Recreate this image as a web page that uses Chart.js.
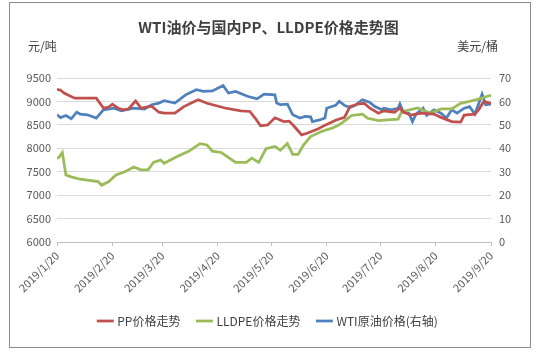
<!DOCTYPE html>
<html>
<head>
<meta charset="utf-8">
<script src="https://cdn.jsdelivr.net/npm/chart.js@4.4.1/dist/chart.umd.min.js"></script>
<style>
  html, body { margin: 0; padding: 0; background: #fff; }
  #wrap { width: 537px; height: 359px; }
</style>
</head>
<body>
<div id="wrap"><canvas id="chart" width="537" height="359"></canvas></div>
<script>
// 日期刻度 (每月20日)
const tickDates = ['2019/1/20', '2019/2/20', '2019/3/20', '2019/4/20', '2019/5/20',
    '2019/6/20', '2019/7/20', '2019/8/20', '2019/9/20'];

// PP价格走势 (元/吨)
const ppDates = ['1/20', '1/22', '1/24', '1/27', '1/30', '2/11', '2/15', '2/18', '2/20', '2/23',
    '2/26', '3/1', '3/5', '3/8', '3/14', '3/18', '3/21', '3/27', '4/1', '4/9',
    '4/14', '4/24', '5/3', '5/8', '5/11', '5/14', '5/18', '5/22', '5/27', '5/30',
    '6/2', '6/6', '6/9', '6/15', '6/20', '6/25', '6/30', '7/3', '7/7', '7/11',
    '7/14', '7/19', '7/22', '7/28', '7/31', '8/2', '8/6', '8/12', '8/19', '8/23',
    '8/29', '9/3', '9/5', '9/11', '9/13', '9/16', '9/20'];
const ppValues = [9260, 9240, 9180, 9120, 9070, 9070, 8860, 8880, 8940, 8860,
    8820, 8840, 9010, 8860, 8900, 8770, 8750, 8750, 8890, 9035,
    8960, 8860, 8800, 8785, 8640, 8480, 8500, 8650, 8570, 8580,
    8460, 8285, 8320, 8410, 8510, 8600, 8660, 8890, 8940, 8960,
    8860, 8750, 8800, 8770, 8860, 8770, 8710, 8750, 8730, 8660,
    8570, 8560, 8710, 8730, 8820, 9000, 8960];

// LLDPE价格走势 (元/吨)
const lldpeDates = ['1/20', '1/21', '1/23', '1/25', '1/28', '2/2', '2/12', '2/14', '2/18', '2/22',
    '2/27', '3/4', '3/8', '3/12', '3/15', '3/19', '3/21', '3/28', '4/4', '4/10',
    '4/14', '4/17', '4/22', '4/30', '5/6', '5/9', '5/13', '5/17', '5/22', '5/25',
    '5/29', '6/1', '6/4', '6/7', '6/11', '6/17', '6/23', '6/27', '7/1', '7/4',
    '7/10', '7/13', '7/19', '7/22', '7/30', '8/1', '8/10', '8/17', '8/23', '8/29',
    '9/3', '9/8', '9/12', '9/18', '9/20'];
const lldpeValues = [7790, 7800, 7910, 7430, 7390, 7340, 7290, 7210, 7290, 7430,
    7500, 7600, 7540, 7540, 7700, 7750, 7680, 7820, 7940, 8100,
    8070, 7940, 7910, 7700, 7700, 7790, 7700, 7990, 8040, 7960,
    8100, 7870, 7870, 8070, 8250, 8360, 8430, 8500, 8610, 8700,
    8730, 8640, 8590, 8600, 8620, 8780, 8860, 8750, 8840, 8840,
    8960, 9000, 9040, 9110, 9130];

// WTI原油价格 (美元/桶, 右轴)
const wtiDates = ['1/20', '1/22', '1/25', '1/28', '1/31', '2/2', '2/6', '2/11', '2/15', '2/21',
    '2/25', '3/4', '3/10', '3/14', '3/18', '3/21', '3/27', '4/2', '4/8', '4/12',
    '4/17', '4/23', '4/26', '4/30', '5/7', '5/12', '5/16', '5/22', '5/23', '5/25',
    '5/29', '6/1', '6/5', '6/8', '6/11', '6/12', '6/16', '6/19', '6/20', '6/25',
    '6/27', '6/30', '7/3', '7/6', '7/10', '7/14', '7/17', '7/21', '7/22', '7/26',
    '7/30', '7/31', '8/2', '8/5', '8/7', '8/9', '8/13', '8/15', '8/19', '8/23',
    '8/26', '8/29', '9/1', '9/5', '9/8', '9/11', '9/15', '9/17', '9/20'];
const wtiValues = [54.3, 53.1, 54.0, 52.6, 55.4, 54.6, 54.3, 52.9, 56.4, 57.1,
    56.0, 57.1, 56.7, 58.6, 59.3, 60.3, 59.3, 62.8, 65.0, 64.3,
    64.5, 66.8, 63.6, 64.3, 62.1, 61.1, 63.1, 62.8, 59.3, 58.6,
    58.8, 54.3, 52.9, 53.6, 53.4, 51.4, 52.1, 52.9, 57.1, 58.3,
    60.0, 58.3, 57.4, 58.3, 60.7, 59.7, 57.8, 56.4, 57.1, 56.4,
    57.1, 58.9, 55.4, 55.0, 51.4, 54.6, 57.1, 54.0, 56.4, 55.0,
    52.9, 56.4, 55.0, 57.1, 57.8, 54.6, 63.1, 58.6, 58.9];

const baseDay = Date.UTC(2019, 0, 20);

// 日期转换为距1月20日的天数
function dayOf(str) {
    const parts = str.split('/').map(Number);
    const y = parts.length === 3 ? parts[0] : 2019;
    const m = parts.length === 3 ? parts[1] : parts[0];
    const d = parts.length === 3 ? parts[2] : parts[1];
    return (Date.UTC(y, m - 1, d) - baseDay) / 86400000;
}

function toPoints(dates, values) {
    return dates.map((d, i) => ({ x: dayOf(d), y: values[i] }));
}

const tickDays = tickDates.map(dayOf);
const fontFamily = '"Noto Sans CJK SC", "Noto Sans", sans-serif';

// 外框与单位文字
const framePlugin = {
    id: 'frame',
    beforeDraw(chart) {
        const ctx = chart.ctx;
        ctx.save();
        ctx.fillStyle = '#fff';
        ctx.fillRect(0, 0, chart.width, chart.height);
        ctx.strokeStyle = '#8c8c8c';
        ctx.lineWidth = 1;
        ctx.strokeRect(9.5, 2.5, 521, 345);
        ctx.restore();
    },
    afterDraw(chart) {
        const ctx = chart.ctx;
        ctx.save();
        ctx.font = '12px ' + fontFamily;
        ctx.fillStyle = '#404040';
        ctx.textBaseline = 'middle';
        ctx.textAlign = 'left';
        ctx.fillText('元/吨', 28, 46);
        ctx.textAlign = 'right';
        ctx.fillText('美元/桶', 498, 46);
        ctx.restore();
    }
};

const ctx = document.getElementById('chart').getContext('2d');
const myChart = new Chart(ctx, {
    type: 'line',
    data: {
        datasets: [{
            label: 'PP价格走势',
            data: toPoints(ppDates, ppValues),
            borderColor: '#C0504D',
            backgroundColor: '#C0504D',
            borderWidth: 2.75,
            pointRadius: 0,
            tension: 0,
            yAxisID: 'y'
        }, {
            label: 'LLDPE价格走势',
            data: toPoints(lldpeDates, lldpeValues),
            borderColor: '#9BBB59',
            backgroundColor: '#9BBB59',
            borderWidth: 2.75,
            pointRadius: 0,
            tension: 0,
            yAxisID: 'y'
        }, {
            label: 'WTI原油价格(右轴)',
            data: toPoints(wtiDates, wtiValues),
            borderColor: '#4F81BD',
            backgroundColor: '#4F81BD',
            borderWidth: 2.75,
            pointRadius: 0,
            tension: 0,
            yAxisID: 'y1'
        }]
    },
    options: {
        responsive: false,
        animation: false,
        layout: {
            padding: { left: 14, right: 14, top: 0, bottom: 22 }
        },
        plugins: {
            title: {
                display: true,
                text: 'WTI油价与国内PP、LLDPE价格走势图',
                color: '#404040',
                font: { family: fontFamily, size: 15, weight: 'bold' },
                padding: { top: 18, bottom: 42 }
            },
            legend: {
                display: true,
                position: 'bottom',
                labels: {
                    color: '#404040',
                    font: { family: fontFamily, size: 12 },
                    usePointStyle: true,
                    pointStyle: 'line',
                    boxWidth: 28,
                    padding: 18
                }
            },
            tooltip: { enabled: false }
        },
        scales: {
            x: {
                type: 'linear',
                min: 0,
                max: tickDays[tickDays.length - 1],
                afterBuildTicks(scale) {
                    scale.ticks = tickDays.map(v => ({ value: v }));
                },
                afterFit(scale) {
                    scale.height = 55;
                },
                ticks: {
                    autoSkip: false,
                    maxRotation: 45,
                    minRotation: 45,
                    color: '#595959',
                    font: { family: fontFamily, size: 11 },
                    callback: function(value) {
                        const i = tickDays.indexOf(value);
                        return i >= 0 ? tickDates[i] : '';
                    }
                },
                grid: {
                    drawOnChartArea: false,
                    drawTicks: true,
                    tickLength: 4,
                    color: '#bfbfbf'
                },
                border: { display: true, color: '#bfbfbf' }
            },
            y: {
                position: 'left',
                min: 6000,
                max: 9500,
                afterFit(scale) {
                    scale.width = 43;
                },
                ticks: {
                    stepSize: 500,
                    color: '#595959',
                    font: { family: fontFamily, size: 11 },
                    padding: 6,
                    callback: value => String(value)
                },
                grid: {
                    color: '#d9d9d9',
                    drawTicks: false
                },
                border: { display: false }
            },
            y1: {
                position: 'right',
                min: 0,
                max: 70,
                afterFit(scale) {
                    scale.width = 32;
                },
                ticks: {
                    stepSize: 10,
                    color: '#595959',
                    font: { family: fontFamily, size: 11 },
                    padding: 8,
                    callback: value => String(value)
                },
                grid: {
                    drawOnChartArea: false,
                    drawTicks: false
                },
                border: { display: false }
            }
        }
    },
    plugins: [framePlugin]
});
</script>
</body>
</html>
